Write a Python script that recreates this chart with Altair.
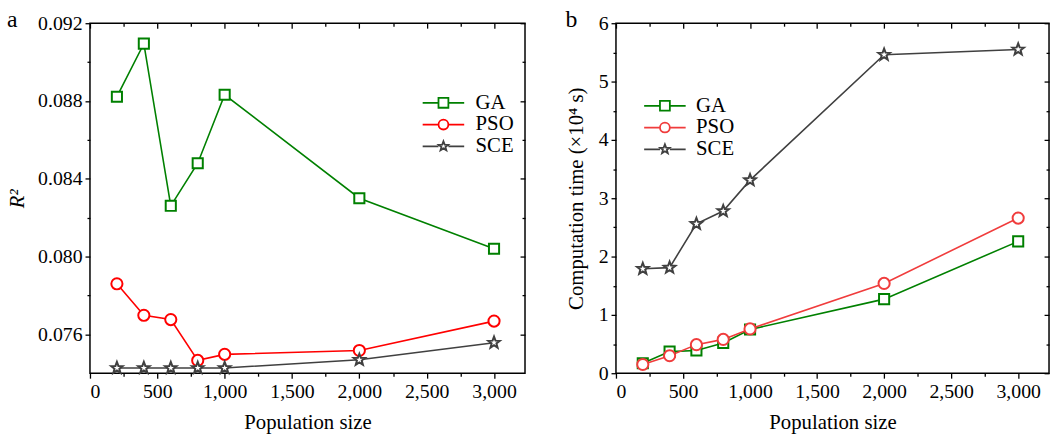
import altair as alt
import pandas as pd

# Population sizes tested
pop = [200, 400, 600, 800, 1000, 2000, 3000]

# Panel a: R^2 of each optimiser
r2_ga = [0.08822, 0.09095, 0.08261, 0.0848, 0.08832, 0.0830, 0.0804]
r2_pso = [0.0786, 0.07698, 0.07676, 0.07466, 0.07497, 0.07517, 0.07668]
r2_sce = [0.07427, 0.07427, 0.07427, 0.07427, 0.07427, 0.07469, 0.07557]

# Panel b: computation time (x10^4 s)
t_ga = [0.17, 0.37, 0.39, 0.52, 0.75, 1.27, 2.26]
t_pso = [0.15, 0.30, 0.49, 0.58, 0.76, 1.54, 2.66]
t_sce = [1.79, 1.81, 2.56, 2.78, 3.31, 5.46, 5.55]

METHODS = ["GA", "PSO", "SCE"]

x_major = [0, 500, 1000, 1500, 2000, 2500, 3000]
x_minor = [250, 750, 1250, 1750, 2250, 2750]

a_major = [0.076, 0.080, 0.084, 0.088, 0.092]
a_minor = [0.078, 0.082, 0.086, 0.090]
b_major = [0, 1, 2, 3, 4, 5, 6]
b_minor = [0.5, 1.5, 2.5, 3.5, 4.5, 5.5]

FONT = "'Liberation Serif', 'Times New Roman', Times, serif"
H = 354

# marker outlines in the [-1, 1] symbol box
SQUARE = "M-1,-1H1V1H-1Z"
CIRCLE = "M1,0A1,1,0,1,1,-1,0A1,1,0,1,1,1,0"
STAR = ("M0,-1L0.247,-0.34L0.951,-0.309L0.399,0.13L0.588,0.809L0,0.42"
        "L-0.588,0.809L-0.399,0.13L-0.951,-0.309L-0.247,-0.34Z")
SEG = "M-4.2,0H-1M1,0H4.2"  # line stub drawn through legend markers

MARKERS = [SQUARE, "circle", STAR]
LEGEND_SYMBOLS = [SEG + SQUARE, SEG + CIRCLE, SEG + STAR]
MARK_SIZES = [105, 150, 210]


def long_frame(series):
    rows = []
    for method, vals in zip(METHODS, series):
        for p, v in zip(pop, vals):
            rows.append({"pop": p, "method": method, "value": v})
    return pd.DataFrame(rows)


def axis(values, **kw):
    opts = dict(values=values, grid=False, domain=False, tickColor="black",
                tickWidth=1.3, labels=False, title=None)
    opts.update(kw)
    return alt.Axis(**opts)


def panel(df, width, ydomain, ymajor, yminor, yfmt, ytitle, colors,
          title_padding, legend_x, legend_y, label_offset, letter,
          ytitle_style="normal"):
    xs = alt.Scale(domain=[0, 3230], nice=False, zero=False)
    ys = alt.Scale(domain=ydomain, nice=False, zero=False)

    def cscale():
        return alt.Scale(domain=METHODS, range=colors)

    base = alt.Chart(df)

    lines = base.mark_line(strokeWidth=1.6).encode(
        x=alt.X("pop:Q", scale=xs,
                axis=axis(x_major, labels=True, format=",d", tickSize=5,
                          labelPadding=4, title="Population size",
                          titlePadding=10, orient="bottom")),
        y=alt.Y("value:Q", scale=ys,
                axis=axis(ymajor, labels=True, format=yfmt, tickSize=5,
                          labelPadding=3, title=ytitle,
                          titlePadding=title_padding, orient="left",
                          titleFontStyle=ytitle_style)),
        color=alt.Color("method:N", scale=cscale(), legend=None),
        detail="method:N",
    )

    points = base.mark_point(filled=False, fill="white", strokeWidth=2,
                             opacity=1).encode(
        x=alt.X("pop:Q", scale=xs,
                axis=axis(x_minor, tickSize=3, orient="bottom")),
        y=alt.Y("value:Q", scale=ys,
                axis=axis(yminor, tickSize=3, orient="left")),
        color=alt.Color("method:N", scale=cscale(), legend=None),
        shape=alt.Shape("method:N",
                        scale=alt.Scale(domain=METHODS, range=MARKERS),
                        legend=None),
        size=alt.Size("method:N",
                      scale=alt.Scale(domain=METHODS, range=MARK_SIZES),
                      legend=None),
    )

    legend = alt.Legend(title=None, orient="none", legendX=legend_x,
                        legendY=legend_y, labelFont=FONT, labelFontSize=21,
                        labelColor="black", labelOffset=label_offset,
                        rowPadding=0, padding=0, symbolStrokeWidth=1.8)

    # clipped copy of the points whose only job is the legend
    key = base.mark_point(filled=False, fill="white", strokeWidth=1.8,
                          opacity=1, size=121, clip=True,
                          yOffset=-5000).encode(
        x=alt.X("pop:Q", scale=xs,
                axis=axis(x_major, tickSize=5, orient="bottom", offset=-H)),
        y=alt.Y("value:Q", scale=ys,
                axis=axis(ymajor, tickSize=5, orient="left", offset=-width)),
        color=alt.Color("method:N", scale=cscale(), legend=legend),
        shape=alt.Shape("method:N",
                        scale=alt.Scale(domain=METHODS, range=LEGEND_SYMBOLS),
                        legend=legend),
    )

    frame_minor = base.mark_point(opacity=0).encode(
        x=alt.X("pop:Q", scale=xs,
                axis=axis(x_minor, tickSize=3, orient="bottom", offset=-H)),
        y=alt.Y("value:Q", scale=ys,
                axis=axis(yminor, tickSize=3, orient="left", offset=-width)),
    )

    return alt.layer(lines, points, key, frame_minor).resolve_scale(
        color="independent", shape="independent", size="independent"
    ).resolve_axis(x="independent", y="independent").properties(
        width=width, height=H,
        title=alt.TitleParams(letter, anchor="start", frame="bounds",
                              font=FONT, fontSize=24, fontWeight="normal",
                              color="black", offset=-19),
    )


df_a = long_frame([r2_ga, r2_pso, r2_sce])
df_b = long_frame([t_ga, t_pso, t_sce])

chart_a = panel(df_a, 440, [0.074, 0.092], a_major, a_minor, ".3f", "R²",
                ["#008000", "#ff0000", "#404040"], 10, 347, 70, 22, "a",
                ytitle_style="italic")
chart_b = panel(df_b, 438, [0, 6], b_major, b_minor, "d",
                "Computation time (×10⁴ s)",
                ["#008000", "#f03c3c", "#404040"], 12, 39, 73, 21, "b")

chart = alt.hconcat(chart_a, chart_b, spacing=38).configure(
    padding={"left": 6, "top": 5, "right": 0, "bottom": 0},
).configure_view(
    stroke="black", strokeWidth=1.5
).configure_axis(
    labelFont=FONT, labelFontSize=20, labelColor="black",
    titleFont=FONT, titleFontSize=21, titleFontWeight="normal",
    titleColor="black",
)

chart.save("out.html", embed_options={"renderer": "svg", "actions": False})
